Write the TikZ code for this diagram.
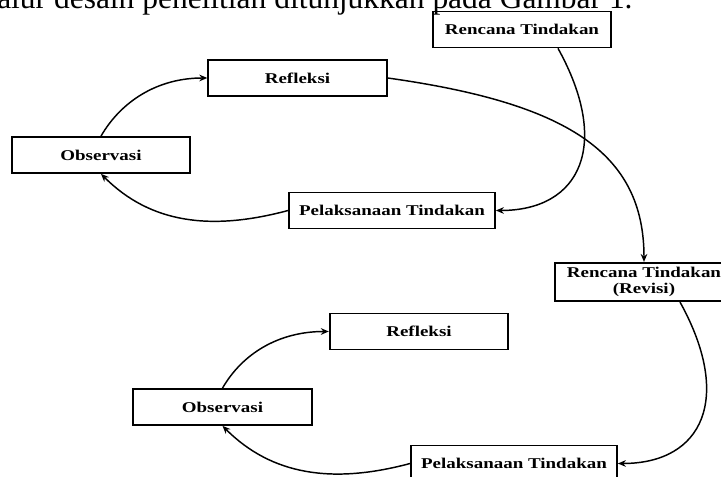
\documentclass[tikz,border=0pt]{standalone}
\usepackage{fontspec}
\newfontfamily\diagfont{Liberation Serif}[FakeStretch=1.27]
\newfontfamily\capfont{Liberation Serif}
\usetikzlibrary{arrows.meta}

\begin{document}
\begin{tikzpicture}[x=0.75pt,y=0.75pt,
    box/.style={shape=rectangle,draw=black,line width=1.3pt,minimum width=134pt,minimum height=27pt,align=center,font=\diagfont\bfseries\fontsize{11.2}{12}\selectfont},
    widebox/.style={box,minimum width=154.5pt},
    flow/.style={-{Stealth[length=6pt,width=5pt]},line width=1.1pt}]
  \useasboundingbox (0,0) rectangle (721,477);
  \clip (0,0) rectangle (721,477);

  \node[anchor=base west,inner sep=0pt,font=\capfont\fontsize{23.6}{26}\selectfont] (cap) at (-3,468) {alur desain penelitian ditunjukkan pada Gambar 1.};

  % first cycle
  \node[box] (R1) at (522,447.5) {Rencana Tindakan};
  \node[widebox] (P1) at (392,266.5) {Pelaksanaan Tindakan};
  \node[box] (O1) at (101,322) {Observasi};
  \node[box] (F1) at (297.5,399) {Refleksi};

  % second cycle
  \node[box] (R2) at (644,195) {Rencana Tindakan\\(Revisi)};
  \node[widebox] (P2) at (514,13.5) {Pelaksanaan Tindakan};
  \node[box] (O2) at (222.5,70) {Observasi};
  \node[box] (F2) at (419,145.5) {Refleksi};

  \draw[flow] ([xshift=27pt]R1.south) to[out=-61,in=0,out distance=82pt,in distance=64pt] (P1.east);
  \draw[flow] (P1.west) to[out=195,in=-45,out distance=60pt,in distance=52.5pt] (O1.south);
  \draw[flow] (O1.north) to[out=60,in=180,out distance=30pt,in distance=37.5pt] (F1.west);
  \draw[flow] (F1.east) to[out=-8,in=90,out distance=135pt,in distance=82.5pt] (R2.north);

  \draw[flow] ([xshift=27pt]R2.south) to[out=-61,in=0,out distance=82pt,in distance=64pt] (P2.east);
  \draw[flow] (P2.west) to[out=195,in=-45,out distance=60pt,in distance=52.5pt] (O2.south);
  \draw[flow] (O2.north) to[out=60,in=180,out distance=30pt,in distance=37.5pt] (F2.west);
\end{tikzpicture}
\end{document}
